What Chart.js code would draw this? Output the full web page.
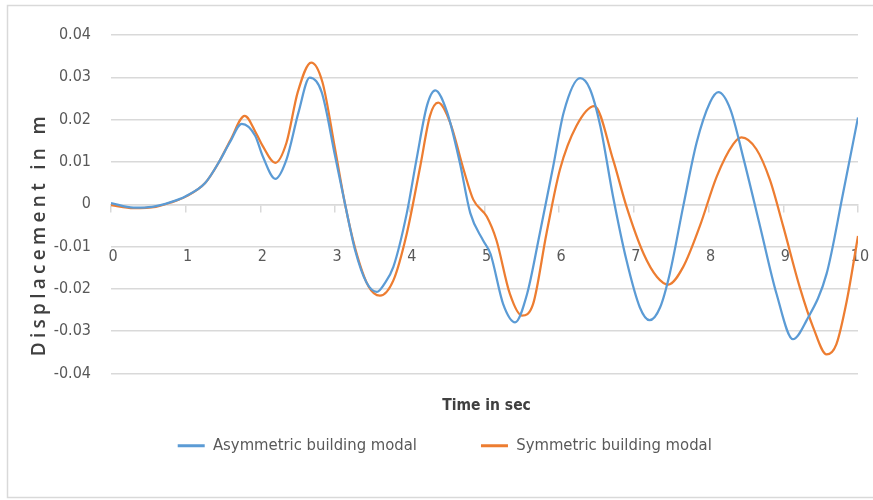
<!DOCTYPE html>
<html>
<head>
<meta charset="utf-8">
<script src="https://cdn.jsdelivr.net/npm/chart.js@4/dist/chart.umd.min.js"></script>
<style>
  html, body { margin: 0; padding: 0; background: #fff; }
  #wrap { width: 873px; height: 500px; position: relative; }
</style>
</head>
<body>
<div id="wrap"><canvas id="c" width="873" height="500"></canvas></div>
<script>
// Time (s) and displacement (m) of the asymmetric building model
const timeAsym = [0, 0.3, 0.55, 0.8, 1.0, 1.26, 1.44, 1.59, 1.75, 1.93, 2.03, 2.2, 2.35, 2.51, 2.66, 2.82, 3.0, 3.13, 3.27, 3.42, 3.56, 3.66, 3.78, 3.96, 4.09, 4.23, 4.34, 4.5, 4.67, 4.81, 4.98, 5.08, 5.25, 5.41, 5.57, 5.74, 5.92, 6.06, 6.28, 6.41, 6.55, 6.72, 6.9, 7.08, 7.21, 7.35, 7.48, 7.66, 7.84, 8.02, 8.13, 8.29, 8.47, 8.69, 8.91, 9.13, 9.31, 9.58, 9.8, 10.0];
const dispAsym = [0.0003, -0.0008, -0.0006, 0.0005, 0.0019, 0.005, 0.0098, 0.0146, 0.019, 0.0162, 0.0114, 0.006, 0.0106, 0.0217, 0.0299, 0.0265, 0.0114, 0.0003, -0.011, -0.0185, -0.0207, -0.0188, -0.0148, -0.0021, 0.0106, 0.0233, 0.0269, 0.0217, 0.0098, -0.0021, -0.0085, -0.0117, -0.0236, -0.0279, -0.0212, -0.0069, 0.009, 0.0217, 0.0298, 0.0273, 0.0185, 0.0019, -0.0132, -0.0244, -0.0274, -0.0244, -0.0164, -0.0005, 0.0146, 0.0241, 0.0265, 0.0225, 0.0106, -0.0053, -0.0212, -0.0319, -0.0275, -0.0164, 0.0026, 0.0205];

// Time (s) and displacement (m) of the symmetric building model
const timeSym = [0, 0.3, 0.6, 0.8, 1.0, 1.26, 1.44, 1.6, 1.79, 1.95, 2.03, 2.2, 2.35, 2.5, 2.68, 2.83, 3.0, 3.13, 3.27, 3.45, 3.6, 3.78, 3.96, 4.14, 4.27, 4.38, 4.54, 4.72, 4.85, 5.03, 5.16, 5.34, 5.5, 5.65, 5.83, 6.01, 6.23, 6.47, 6.72, 6.9, 7.13, 7.31, 7.46, 7.66, 7.88, 8.11, 8.33, 8.44, 8.64, 8.82, 9.0, 9.22, 9.4, 9.58, 9.71, 9.85, 10.0];
const dispSym = [-0.0002, -0.0009, -0.0006, 0.0004, 0.0018, 0.005, 0.0098, 0.0152, 0.0209, 0.0165, 0.0138, 0.0098, 0.0146, 0.0265, 0.0335, 0.0289, 0.013, 0.0003, -0.0105, -0.0195, -0.0216, -0.018, -0.0069, 0.009, 0.0209, 0.024, 0.0193, 0.0082, 0.0011, -0.0029, -0.0085, -0.0212, -0.0263, -0.0236, -0.0069, 0.0082, 0.0185, 0.0232, 0.0106, -0.0005, -0.0117, -0.0172, -0.019, -0.0148, -0.0053, 0.0066, 0.0142, 0.0158, 0.013, 0.0058, -0.0053, -0.0196, -0.0291, -0.0355, -0.0331, -0.0228, -0.0075];

const seriesNames = ['Asymmetric building modal', 'Symmetric building modal'];
const seriesColors = ['#5B9BD5', '#ED7D31'];
const xTitle = 'Time in sec';
const yTitle = 'Displacement in m';

const NARROW = '"DejaVu Sans Condensed", "Liberation Sans Narrow", "Liberation Sans", sans-serif';
const TEXT_GREY = '#595959';
const GRID_GREY = '#d9d9d9';

const toPoints = (ts, vs) => ts.map((t, i) => ({ x: t, y: vs[i] }));

// Frame around the figure plus the two axis titles
const frameAndTitles = {
  id: 'frameAndTitles',
  beforeDraw(chart) {
    const { ctx, width } = chart;
    ctx.save();
    ctx.fillStyle = '#ffffff';
    ctx.fillRect(0, 0, width, chart.height);
    ctx.strokeStyle = GRID_GREY;
    ctx.lineWidth = 1.5;
    ctx.strokeRect(7.5, 5.5, width + 10, 492);
    ctx.restore();
  },
  afterDraw(chart) {
    const { ctx, chartArea } = chart;
    ctx.save();
    ctx.fillStyle = '#404040';
    ctx.textAlign = 'center';
    ctx.textBaseline = 'middle';
    ctx.font = 'bold 15.5px ' + NARROW;
    ctx.fillText(xTitle, (chartArea.left + chartArea.right) / 2 + 2, 406);

    ctx.translate(chartArea.left - 71, (chartArea.top + chartArea.bottom) / 2 + 30);
    ctx.rotate(-Math.PI / 2);
    ctx.font = '600 19px "Open Sans", "DejaVu Sans", sans-serif';
    if ('letterSpacing' in ctx) ctx.letterSpacing = '4.3px';
    ctx.fillText(yTitle, 0, 0);
    ctx.restore();
  }
};

new Chart(document.getElementById('c'), {
  type: 'line',
  data: {
    datasets: [
      {
        label: seriesNames[0],
        data: toPoints(timeAsym, dispAsym),
        borderColor: seriesColors[0],
        backgroundColor: seriesColors[0],
        borderWidth: 2.25,
        pointRadius: 0,
        cubicInterpolationMode: 'monotone'
      },
      {
        label: seriesNames[1],
        data: toPoints(timeSym, dispSym),
        borderColor: seriesColors[1],
        backgroundColor: seriesColors[1],
        borderWidth: 2.25,
        pointRadius: 0,
        cubicInterpolationMode: 'monotone'
      }
    ]
  },
  options: {
    responsive: false,
    animation: false,
    devicePixelRatio: 1,
    layout: { padding: { top: 35, left: 31.5, right: 15, bottom: 36 } },
    scales: {
      x: {
        type: 'linear',
        min: 0,
        max: 10,
        position: { y: 0 },
        afterFit(scale) { scale.paddingLeft = 0; scale.paddingRight = 0; },
        grid: { drawOnChartArea: false, drawTicks: true, tickLength: 7, color: GRID_GREY, lineWidth: 1.5 },
        border: { display: true, color: GRID_GREY, width: 1.5 },
        ticks: {
          stepSize: 1,
          autoSkip: false,
          maxRotation: 0,
          padding: 36,
          labelOffset: 2,
          color: TEXT_GREY,
          font: { family: NARROW, size: 16 }
        }
      },
      y: {
        type: 'linear',
        min: -0.04,
        max: 0.04,
        afterFit(scale) { scale.width = 79.5; },
        grid: { drawTicks: false, color: GRID_GREY, lineWidth: 1.5 },
        border: { display: false },
        ticks: {
          stepSize: 0.01,
          padding: 20,
          color: TEXT_GREY,
          font: { family: NARROW, size: 16 },
          callback: (v) => String(+Number(v).toFixed(2))
        }
      }
    },
    plugins: {
      tooltip: { enabled: false },
      legend: {
        position: 'bottom',
        align: 'center',
        labels: {
          boxWidth: 27,
          boxHeight: 3,
          padding: 64,
          color: TEXT_GREY,
          font: { family: NARROW, size: 16.5 },
          generateLabels(chart) {
            const items = Chart.defaults.plugins.legend.labels.generateLabels(chart);
            items.forEach((it) => { it.lineWidth = 0; it.fillStyle = it.strokeStyle; });
            return items;
          }
        }
      }
    }
  },
  plugins: [frameAndTitles]
});
</script>
</body>
</html>
